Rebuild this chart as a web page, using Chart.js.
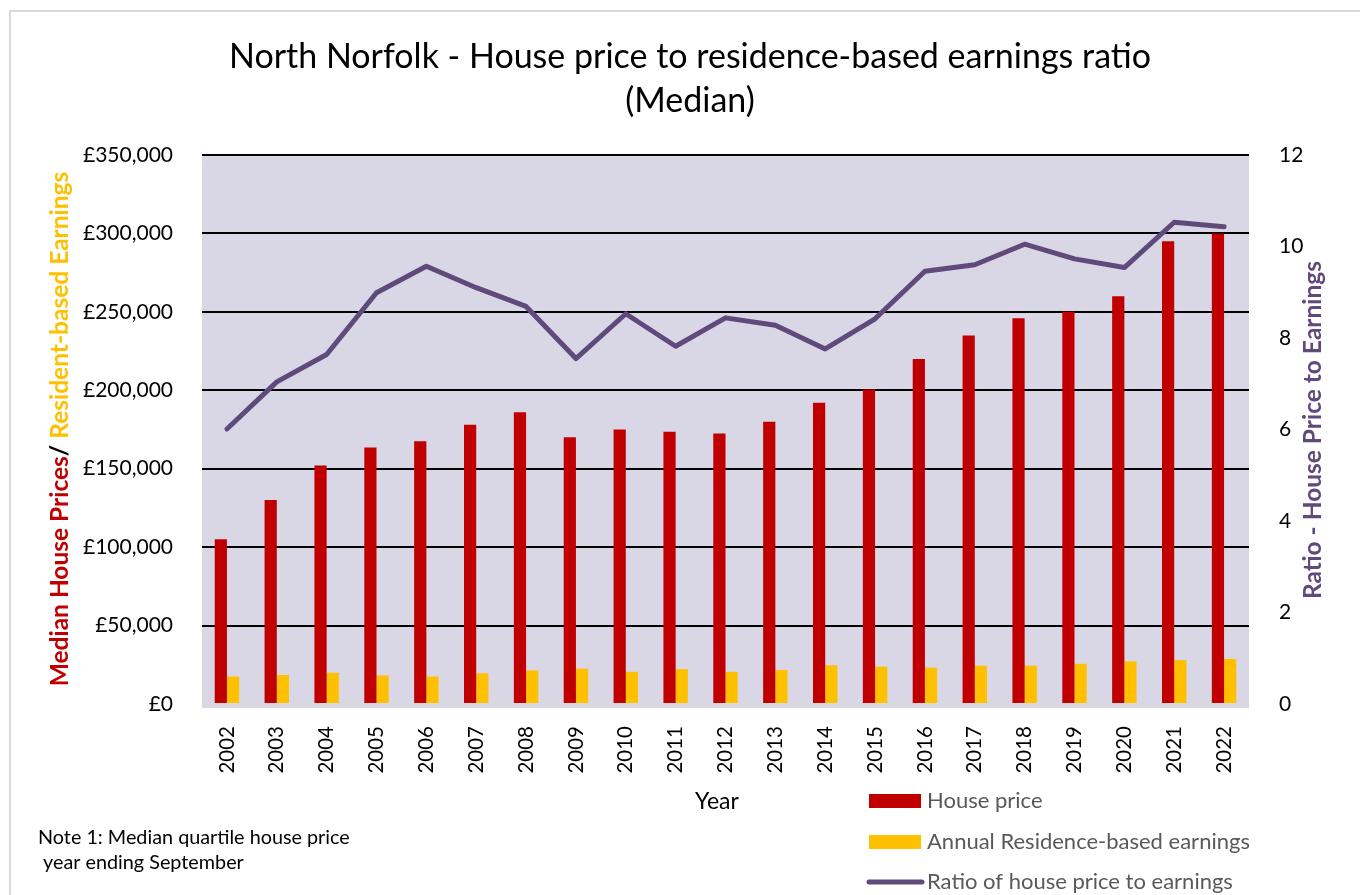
<!DOCTYPE html>
<html>
<head>
<meta charset="utf-8">
<script src="https://cdn.jsdelivr.net/npm/chart.js@4/dist/chart.umd.min.js"></script>
<style>
  html, body { margin: 0; padding: 0; background: #fff; }
  #wrap { position: relative; width: 1360px; height: 895px; overflow: hidden; }
  #frame { position: absolute; left: 9px; top: 10px; width: 1400px; height: 950px;
           border-left: 2px solid #d9d9d9; border-top: 2px solid #d9d9d9; }
  canvas { position: absolute; left: 0; top: 0; }
</style>
</head>
<body>
<div id="wrap">
  <div id="frame"></div>
  <canvas id="chart" width="1360" height="895"></canvas>
</div>
<script>
const years = ['2002','2003','2004','2005','2006','2007','2008','2009','2010','2011','2012',
               '2013','2014','2015','2016','2017','2018','2019','2020','2021','2022'];
const housePrice = [105000,130000,152000,163500,167500,178000,186000,170000,175000,173500,172500,
                    180000,192000,200500,220000,235000,246000,250000,260000,295000,300000];
const earnings = [17500,18500,19900,18200,17500,19600,21400,22500,20500,22200,20500,
                  21700,24700,23800,23200,24400,24400,25600,27200,28000,28700];
const ratio = [6.01,7.04,7.64,8.99,9.57,9.10,8.69,7.55,8.53,7.82,8.44,
               8.28,7.76,8.42,9.46,9.60,10.05,9.73,9.54,10.53,10.43];

const FONT = 'Lato, "Open Sans", sans-serif';

// titles, axis titles, legend and note drawn straight onto the canvas
const extras = {
  id: 'extras',
  afterDraw(chart) {
    const ctx = chart.ctx;
    const area = chart.chartArea;
    ctx.save();

    // title
    ctx.fillStyle = '#000';
    ctx.textAlign = 'center';
    ctx.textBaseline = 'middle';
    ctx.font = '34px ' + FONT;
    ctx.fillText('North Norfolk - House price to residence-based earnings ratio', 690, 57);
    ctx.fillText('(Median)', 690, 101);

    // left axis title, two colours
    ctx.save();
    ctx.translate(60, 429);
    ctx.rotate(-Math.PI / 2);
    ctx.font = 'bold 24.5px ' + FONT;
    const parts = [['Median House Prices', '#c00000'], ['/ ', '#000'], ['Resident-based Earnings', '#ffc000']];
    const total = parts.reduce((s, p) => s + ctx.measureText(p[0]).width, 0);
    let x = -total / 2;
    ctx.textAlign = 'left';
    parts.forEach(p => {
      ctx.fillStyle = p[1];
      ctx.fillText(p[0], x, 0);
      x += ctx.measureText(p[0]).width;
    });
    ctx.restore();

    // right axis title
    ctx.save();
    ctx.translate(1313, 430);
    ctx.rotate(-Math.PI / 2);
    ctx.font = 'bold 24.5px ' + FONT;
    ctx.fillStyle = '#604a7b';
    ctx.textAlign = 'center';
    ctx.fillText('Ratio - House Price to Earnings', 0, 0);
    ctx.restore();

    // x axis title
    ctx.fillStyle = '#000';
    ctx.font = '23px ' + FONT;
    ctx.textAlign = 'center';
    ctx.fillText('Year', 717, 802);

    // legend
    const rows = [801, 842, 882];
    ctx.font = '22px ' + FONT;
    ctx.textAlign = 'left';
    chart.data.datasets.forEach((ds, i) => {
      const y = rows[i];
      if (ds.type === 'line') {
        ctx.strokeStyle = ds.borderColor;
        ctx.lineWidth = 5;
        ctx.lineCap = 'round';
        ctx.beginPath();
        ctx.moveTo(869, y);
        ctx.lineTo(922, y);
        ctx.stroke();
      } else {
        ctx.fillStyle = ds.backgroundColor;
        ctx.fillRect(869, y - 7, 52, 14);
      }
      ctx.fillStyle = '#595959';
      ctx.fillText(ds.label, 927, y);
    });

    // note
    ctx.fillStyle = '#000';
    ctx.font = '19.8px ' + FONT;
    ctx.fillText('Note 1: Median quartile house price', 38, 838);
    ctx.fillText(' year ending September', 38, 863);

    ctx.restore();
  }
};

const plotBg = {
  id: 'plotBg',
  beforeDraw(chart) {
    const a = chart.chartArea;
    chart.ctx.save();
    chart.ctx.fillStyle = '#d9d6e6';
    chart.ctx.fillRect(a.left, a.top, a.right - a.left, a.bottom - a.top + 4);
    chart.ctx.restore();
  }
};

new Chart(document.getElementById('chart'), {
  data: {
    labels: years,
    datasets: [
      {
        type: 'bar',
        label: 'House price',
        data: housePrice,
        backgroundColor: '#c00000',
        yAxisID: 'y',
        categoryPercentage: 0.49,
        barPercentage: 1.0,
        order: 2
      },
      {
        type: 'bar',
        label: 'Annual Residence-based earnings',
        data: earnings,
        backgroundColor: '#ffc000',
        yAxisID: 'y',
        categoryPercentage: 0.49,
        barPercentage: 1.0,
        order: 2
      },
      {
        type: 'line',
        label: 'Ratio of house price to earnings',
        data: ratio,
        borderColor: '#604a7b',
        borderWidth: 5,
        borderCapStyle: 'round',
        borderJoinStyle: 'round',
        pointRadius: 0,
        tension: 0,
        yAxisID: 'y1',
        order: 0
      }
    ]
  },
  options: {
    responsive: false,
    animation: false,
    layout: { padding: { top: 155, left: 0, right: 0, bottom: 0 } },
    plugins: {
      legend: { display: false },
      tooltip: { enabled: false }
    },
    scales: {
      x: {
        grid: { display: false },
        border: { display: false },
        ticks: {
          color: '#000',
          font: { family: FONT, size: 20.5 },
          minRotation: 90,
          maxRotation: 90,
          padding: 14
        },
        afterFit(scale) { scale.height = 191; }
      },
      y: {
        position: 'left',
        min: 0,
        max: 350000,
        border: { display: false },
        grid: {
          drawTicks: false,
          lineWidth: 2,
          color: ctx => ctx.tick && ctx.tick.value === 0 ? '#d9d9d9' : '#000'
        },
        ticks: {
          stepSize: 50000,
          padding: 29,
          color: '#000',
          font: { family: FONT, size: 21 },
          callback: v => '£' + v.toLocaleString('en-GB')
        },
        afterFit(scale) { scale.width = 202; }
      },
      y1: {
        position: 'right',
        min: 0,
        max: 12,
        border: { display: false },
        grid: { display: false, drawOnChartArea: false },
        ticks: {
          stepSize: 2,
          padding: 22,
          color: '#000',
          font: { family: FONT, size: 21 }
        },
        afterFit(scale) { scale.width = 111; }
      }
    }
  },
  plugins: [plotBg, extras]
});
</script>
</body>
</html>
